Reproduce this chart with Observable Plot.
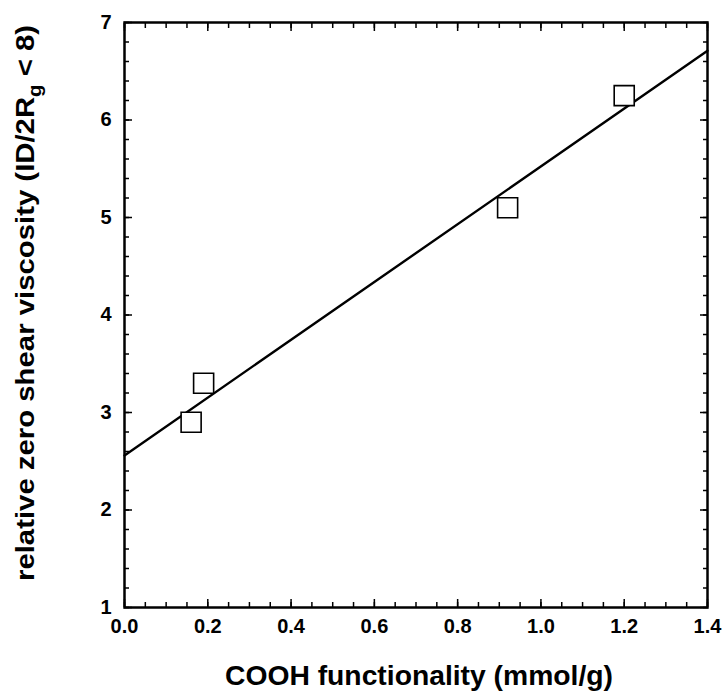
<!DOCTYPE html>
<html><head><meta charset="utf-8">
<script src="https://cdn.jsdelivr.net/npm/d3@7"></script>
<script src="https://cdn.jsdelivr.net/npm/@observablehq/plot@0.6"></script>
<style>body{margin:0;background:#fff}</style>
</head><body><div id="chart"></div>
<script>
// data
const cooh = [0.16, 0.19, 0.92, 1.20];
const viscosity = [2.9, 3.3, 5.1, 6.25];
// fitted straight line end points
const fitX = [0, 1.4];
const fitY = [2.56, 6.71];
// ticks
const xMajor = [0, 0.2, 0.4, 0.6, 0.8, 1.0, 1.2, 1.4];
const xTickLabels = ["0.0", "0.2", "0.4", "0.6", "0.8", "1.0", "1.2", "1.4"];
const yMajor = [1, 2, 3, 4, 5, 6, 7];
const yTickLabels = ["1", "2", "3", "4", "5", "6", "7"];
const xMinor = d3.range(0, 29).map(i => i * 0.05);
const yMinor = d3.range(0, 31).map(i => 1 + i * 0.2);
const xTitle = "COOH functionality (mmol/g)";
const yTitleMain = "relative zero shear viscosity (ID/2R";
const yTitleSub = "g";
const yTitleEnd = " < 8)";

const points = cooh.map((x, i) => ({x, y: viscosity[i]}));
const fit = fitX.map((x, i) => ({x, y: fitY[i]}));

const W = 725, H = 693;
const font = "'Liberation Sans', Arial, Helvetica, sans-serif";

const tickOpts = {strokeWidth: 1.5, label: null, text: null};
const svg = Plot.plot({
  width: W, height: H,
  marginLeft: 124, marginRight: 18, marginTop: 22, marginBottom: 86,
  style: {fontFamily: font, fontSize: "20px", fontWeight: "bold", background: "#fff", color: "#000"},
  x: {domain: [0, 1.4], axis: null},
  y: {domain: [1, 7], axis: null},
  marks: [
    Plot.axisX(xMinor, {anchor: "bottom", tickSize: -5, ...tickOpts}),
    Plot.axisX(xMinor, {anchor: "top", tickSize: -5, ...tickOpts}),
    Plot.axisX(xMajor, {anchor: "bottom", tickSize: -8, ...tickOpts}),
    Plot.axisX(xMajor, {anchor: "top", tickSize: -8, ...tickOpts}),
    Plot.axisY(yMinor, {anchor: "left", tickSize: -5, ...tickOpts}),
    Plot.axisY(yMinor, {anchor: "right", tickSize: -5, ...tickOpts}),
    Plot.axisY(yMajor, {anchor: "left", tickSize: -8, ...tickOpts}),
    Plot.axisY(yMajor, {anchor: "right", tickSize: -8, ...tickOpts}),
    Plot.axisX(xMajor, {anchor: "bottom", tickSize: 0, tickPadding: 11, label: null,
      tickFormat: (d, i) => xTickLabels[i], fontSize: 20, fontWeight: "bold"}),
    Plot.axisY(yMajor, {anchor: "left", tickSize: 0, tickPadding: 13, label: null,
      tickFormat: (d, i) => yTickLabels[i], fontSize: 20, fontWeight: "bold"}),
    Plot.line(fit, {x: "x", y: "y", stroke: "#000", strokeWidth: 2.4}),
    Plot.dot(points, {x: "x", y: "y", symbol: "square", r: 11.3, stroke: "#000", strokeWidth: 1.6, fill: "#fff"}),
    Plot.frame({stroke: "#000", strokeWidth: 2.5})
  ]
});

const s = d3.select(svg);

s.append("text")
  .attr("x", 419).attr("y", 685)
  .attr("text-anchor", "middle")
  .attr("font-family", font).attr("font-weight", "bold").attr("font-size", 28)
  .attr("textLength", 388).attr("lengthAdjust", "spacingAndGlyphs")
  .attr("fill", "#000")
  .text(xTitle);

const yt = s.append("text")
  .attr("transform", "translate(34,303) rotate(-90)")
  .attr("text-anchor", "middle")
  .attr("font-family", font).attr("font-weight", "bold").attr("font-size", 26)
  .attr("textLength", 556).attr("lengthAdjust", "spacingAndGlyphs")
  .attr("fill", "#000");
yt.append("tspan").text(yTitleMain);
yt.append("tspan").attr("font-size", 18).attr("dy", 7).text(yTitleSub);
yt.append("tspan").attr("dy", -7).text(yTitleEnd);

document.getElementById("chart").appendChild(svg);
</script>
</body></html>
